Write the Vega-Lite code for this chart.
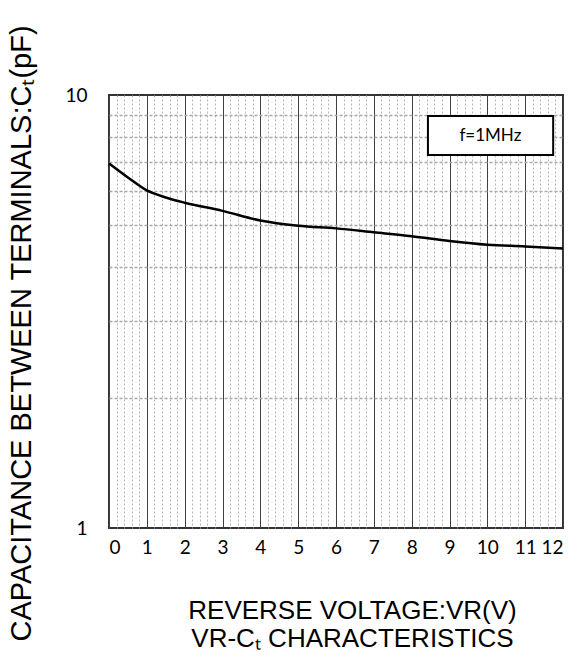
{
  "$schema": "https://vega.github.io/schema/vega-lite/v6.json",
  "width": 454,
  "height": 433,
  "autosize": "none",
  "padding": {"left": 109, "top": 95, "right": 19, "bottom": 134},
  "background": "white",
  "config": {
    "view": {"stroke": "#333333", "strokeWidth": 2},
    "axis": {"labelFont": "Lato", "labelColor": "#000000", "titleFont": "Liberation Sans", "titleColor": "#000000", "titleFontWeight": "normal", "ticks": false, "tickSize": 0, "domain": false}
  },
  "layer": [
    {
      "data": {"values": [{"note": "f=1MHz"}]},
      "mark": {"type": "rect", "fill": "white", "stroke": "#000000", "strokeWidth": 2},
      "encoding": {
        "x": {"datum": 8.43, "type": "quantitative", "scale": {"domain": [0, 12], "nice": false, "zero": false},
          "axis": {"orient": "bottom", "values": [0.2,0.4,0.6,0.8,1.2,1.4,1.6,1.8,2.2,2.4,2.6,2.8,3.2,3.4,3.6,3.8,4.2,4.4,4.6,4.8,5.2,5.4,5.6,5.8,6.2,6.4,6.6,6.8,7.2,7.4,7.6,7.8,8.2,8.4,8.6,8.8,9.2,9.4,9.6,9.8,10.2,10.4,10.6,10.8,11.2,11.4,11.6,11.8],
            "labels": false, "title": null, "grid": true, "gridColor": "#b4b4b4", "gridDash": [2, 2], "gridWidth": 1}},
        "x2": {"datum": 11.74},
        "y": {"datum": 8.94, "type": "quantitative", "scale": {"type": "log", "domain": [1, 10], "nice": false},
          "axis": {"orient": "left", "values": [2,3,4,5,6,7,8,9], "labels": false, "title": null, "grid": true, "gridColor": "#a8a8a8", "gridDash": [3, 2], "gridWidth": 1.5}},
        "y2": {"datum": 7.27}
      }
    },
    {
      "data": {"values": [{"note": "f=1MHz"}]},
      "mark": {"type": "text", "font": "Lato", "fontSize": 17, "fontWeight": 400, "fill": "#000000", "align": "center", "baseline": "middle"},
      "encoding": {
        "x": {"datum": 10.08, "type": "quantitative", "axis": null},
        "y": {"datum": 8.06, "type": "quantitative", "axis": null},
        "text": {"field": "note"}
      }
    },
    {
      "data": {
        "values": [
          {"vr": 0, "ct": 6.95},
          {"vr": 0.5, "ct": 6.45},
          {"vr": 1, "ct": 6.02},
          {"vr": 1.5, "ct": 5.8},
          {"vr": 2, "ct": 5.64},
          {"vr": 3, "ct": 5.4},
          {"vr": 4, "ct": 5.13},
          {"vr": 5, "ct": 4.99},
          {"vr": 6, "ct": 4.92},
          {"vr": 7, "ct": 4.82},
          {"vr": 8, "ct": 4.72},
          {"vr": 9, "ct": 4.6},
          {"vr": 10, "ct": 4.51},
          {"vr": 11, "ct": 4.47},
          {"vr": 12, "ct": 4.42}
        ]
      },
      "mark": {"type": "line", "color": "#000000", "strokeWidth": 2.5, "interpolate": "monotone"},
      "encoding": {
        "x": {"field": "vr", "type": "quantitative",
          "axis": {"orient": "bottom", "values": [0,1,2,3,4,5,6,7,8,9,10,11,12], "grid": true, "gridColor": "#404040", "gridWidth": 1, "labelPadding": 10, "labelFontSize": 19, "labelFont": "Lato",
            "title": ["REVERSE VOLTAGE:VR(V)", "VR-Cₜ CHARACTERISTICS"], "titleFontSize": 26, "titleLineHeight": 28, "titleX": 243, "titleY": 69, "titleBaseline": "top", "titleAlign": "center"}},
        "y": {"field": "ct", "type": "quantitative",
          "axis": {"orient": "left", "values": [1, 10], "grid": false, "labelPadding": 22, "labelFontSize": 19, "labelFont": "Lato",
            "title": "CAPACITANCE BETWEEN TERMINALS:Cₜ(pF)", "titleFontSize": 29, "titleX": -88, "titleY": 238, "titleBaseline": "middle", "titleAlign": "center", "titleAngle": -90}}
      }
    }
  ],
  "resolve": {"axis": {"x": "independent", "y": "independent"}}
}
